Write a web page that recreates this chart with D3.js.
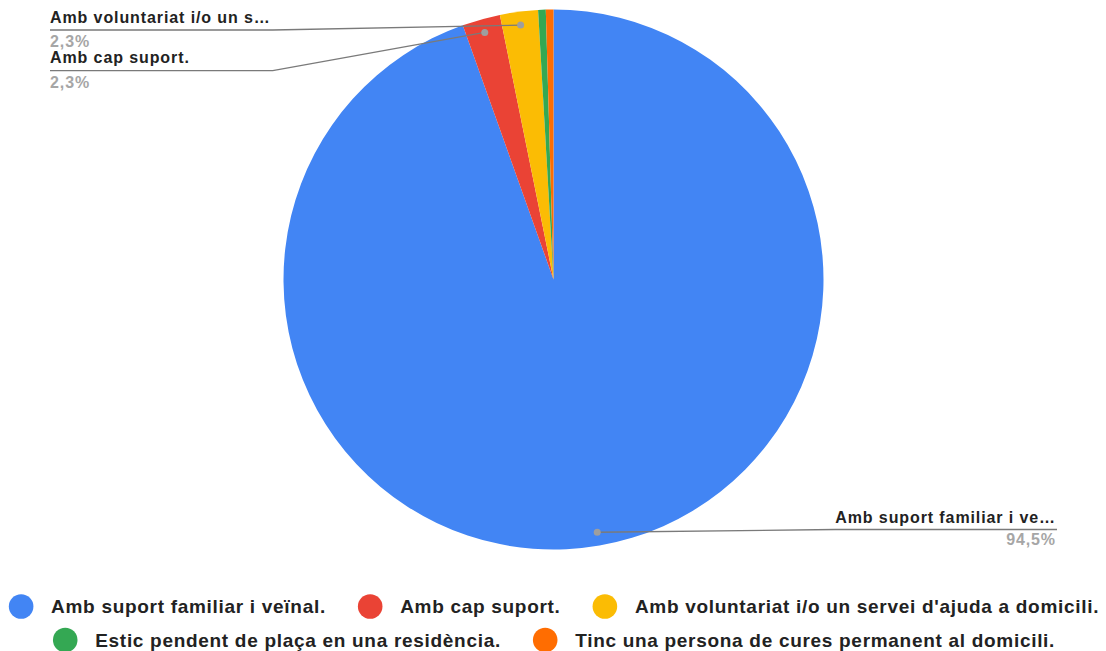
<!DOCTYPE html>
<html>
<head>
<meta charset="utf-8">
<script src="https://cdn.jsdelivr.net/npm/d3@7"></script>
<style>
  html, body { margin: 0; padding: 0; background: #fff; }
  svg { display: block; }
  text { font-family: "Liberation Sans", Arial, sans-serif; font-weight: bold; }
</style>
</head>
<body>
<svg id="chart" width="1106" height="651"></svg>
<script>
// Responses per category
const categories = [
  "Amb suport familiar i veïnal.",
  "Amb cap suport.",
  "Amb voluntariat i/o un servei d'ajuda a domicili.",
  "Estic pendent de plaça en una residència.",
  "Tinc una persona de cures permanent al domicili."
];
const counts = [208, 5, 5, 1, 1];
const colors = ["#4285f4", "#ea4335", "#fbbc04", "#34a853", "#ff6d01"];
// Slice labels shown next to the pie (shortened names and percentages)
const sliceLabels = ["Amb suport familiar i ve…", "Amb cap suport.", "Amb voluntariat i/o un s…"];
const slicePercents = ["94,5%", "2,3%", "2,3%"];

const svg = d3.select("#chart");
const cx = 553.5, cy = 279.5, radius = 270;

const pie = d3.pie().sort(null).value(d => d)(counts);
const arc = d3.arc().innerRadius(0).outerRadius(radius);
const dotArc = d3.arc().innerRadius(radius * 0.95).outerRadius(radius * 0.95);

const g = svg.append("g").attr("transform", `translate(${cx},${cy})`);
g.selectAll("path.slice")
  .data(pie)
  .join("path")
  .attr("class", "slice")
  .attr("d", arc)
  .attr("fill", (d, i) => colors[i]);

// Leader lines and labels
const labelLayer = svg.append("g");
const fontSize = 16;
const spacing = 0.9;
const labelSpec = [
  { i: 0, anchor: "end",   x: 1056, baseline: 522.7, under: 529.5, pct: 545 },
  { i: 2, anchor: "start", x: 50,   baseline: 23.3,  under: 30,    pct: 46.7 },
  { i: 1, anchor: "start", x: 50,   baseline: 63.3,  under: 70.7,  pct: 88.3 }
];
// Draw the texts first so the left column can share one underline length
labelSpec.forEach(s => {
  s.c = dotArc.centroid(pie[s.i]);
  s.label = labelLayer.append("text")
    .attr("x", s.x).attr("y", s.baseline)
    .attr("text-anchor", s.anchor)
    .attr("font-size", fontSize)
    .attr("letter-spacing", spacing)
    .attr("fill", "#222")
    .text(sliceLabels[s.i]);
  s.w = s.label.node().getComputedTextLength();
  labelLayer.append("text")
    .attr("x", s.x).attr("y", s.pct)
    .attr("text-anchor", s.anchor)
    .attr("font-size", fontSize)
    .attr("letter-spacing", spacing)
    .attr("fill", "#a6a6a6")
    .text(slicePercents[s.i]);
});
const leftWidth = d3.max(labelSpec.filter(s => s.anchor === "start"), s => s.w);
labelSpec.forEach(s => {
  const dot = [cx + s.c[0], cy + s.c[1]];
  let pts;
  if (s.anchor === "end") {
    pts = [dot, [s.x - s.w, s.under], [s.x + 1, s.under]];
  } else {
    pts = [[s.x, s.under], [s.x + leftWidth + 2, s.under], dot];
  }
  labelLayer.append("path")
    .attr("d", d3.line()(pts))
    .attr("fill", "none")
    .attr("stroke", "#7a7a7a")
    .attr("stroke-width", 1.3);
  labelLayer.append("circle")
    .attr("cx", dot[0]).attr("cy", dot[1]).attr("r", 3.5)
    .attr("fill", "#9e9e9e");
});

// Legend, two centred rows
const legendRows = [[0, 1, 2], [3, 4]];
const legendY = [606.5, 640];
const legendFont = 19;
const legendSpacing = 0.7;
const dotR = 12.3, dotGap = 17.7, itemGap = 32;
const legend = svg.append("g");
legendRows.forEach((row, r) => {
  const items = row.map(i => {
    const t = legend.append("text")
      .attr("font-size", legendFont)
      .attr("letter-spacing", legendSpacing)
      .attr("fill", "#222")
      .attr("dominant-baseline", "central")
      .attr("y", legendY[r])
      .text(categories[i]);
    return { i, t, w: t.node().getComputedTextLength() };
  });
  const total = d3.sum(items, d => 2 * dotR + dotGap + d.w) + itemGap * (items.length - 1);
  let x = 554 - total / 2;
  items.forEach(d => {
    legend.append("circle")
      .attr("cx", x + dotR).attr("cy", legendY[r]).attr("r", dotR)
      .attr("fill", colors[d.i]);
    d.t.attr("x", x + 2 * dotR + dotGap);
    x += 2 * dotR + dotGap + d.w + itemGap;
  });
});
</script>
</body>
</html>
